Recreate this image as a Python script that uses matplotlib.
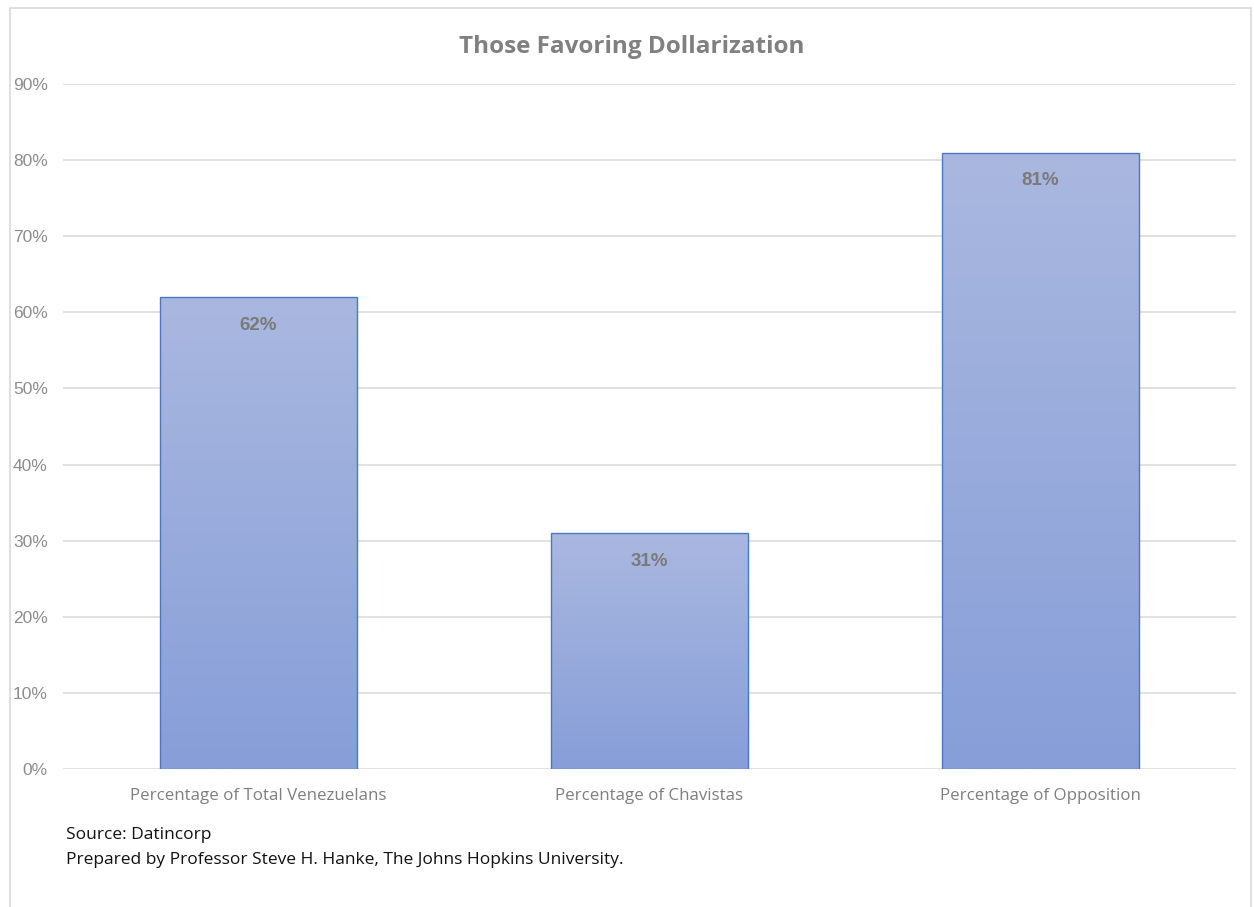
import matplotlib.pyplot as plt
import numpy as np
from matplotlib.patches import Rectangle
from matplotlib.colors import LinearSegmentedColormap

categories = ["Percentage of Total Venezuelans", "Percentage of Chavistas", "Percentage of Opposition"]
values = [62, 31, 81]
yticks = [0, 10, 20, 30, 40, 50, 60, 70, 80, 90]

W, H = 1254, 907
fig = plt.figure(figsize=(W / 100, H / 100), dpi=100)
fig.patch.set_facecolor("white")

# outer chart border
fig.patches.append(Rectangle((10 / W, -0.05), (1251 - 10) / W, 1.05 - 8 / H,
                             transform=fig.transFigure, fill=False,
                             edgecolor="#d9d9d9", linewidth=1.2))

ax = fig.add_axes([63 / W, 1 - 769 / H, (1236 - 63) / W, (769 - 84) / H])

for s in ax.spines.values():
    s.set_visible(False)
ax.set_yticks(yticks)
ax.set_yticklabels([f"{t}%" for t in yticks], family="Liberation Sans",
                   fontsize=12.5, color="#8c8c8c")
ax.tick_params(axis="y", length=0, pad=11)
ax.set_xticks(range(len(categories)))
ax.set_xticklabels(categories, family="Open Sans", fontsize=12.2, color="#7f7f7f")
ax.tick_params(axis="x", length=0, pad=14)
ax.grid(axis="y", color="#d9d9d9", linewidth=1.1)
ax.set_axisbelow(True)

cmap = LinearSegmentedColormap.from_list("barfill", ["#879ed8", "#aab8e0"])
bar_w = 0.504
bars = ax.bar(range(len(values)), values, width=bar_w, color="none",
              edgecolor="#4a76c6", linewidth=1.0, zorder=3)
for b, v in zip(bars, values):
    x0 = b.get_x()
    grad = np.linspace(0, 1, 256).reshape(-1, 1)
    im = ax.imshow(grad, cmap=cmap, origin="lower", aspect="auto",
                   extent=[x0, x0 + bar_w, 0, v], zorder=2)
    im.set_clip_path(b)
    ax.annotate(f"{v}%", (x0 + bar_w / 2, v), xytext=(0, -28),
                textcoords="offset pixels", ha="center", va="center",
                family="Liberation Sans", fontweight="bold", fontsize=13.5,
                color="#7a7a7a", zorder=4)
ax.set_xlim(-0.5, 2.5)
ax.set_ylim(0, 90)

fig.text(632 / W, 1 - 47 / H, "Those Favoring Dollarization", ha="center", va="center",
         family="Open Sans", fontweight="bold", fontsize=17.5, color="#808080")

fig.text(66 / W, 1 - 835 / H, "Source: Datincorp", ha="left", va="center",
         family="Open Sans", fontsize=12.5, color="#111111")
fig.text(66 / W, 1 - 860 / H,
         "Prepared by Professor Steve H. Hanke, The Johns Hopkins University.",
         ha="left", va="center", family="Open Sans", fontsize=12.5, color="#111111")

fig.savefig("out.png", dpi=100)
